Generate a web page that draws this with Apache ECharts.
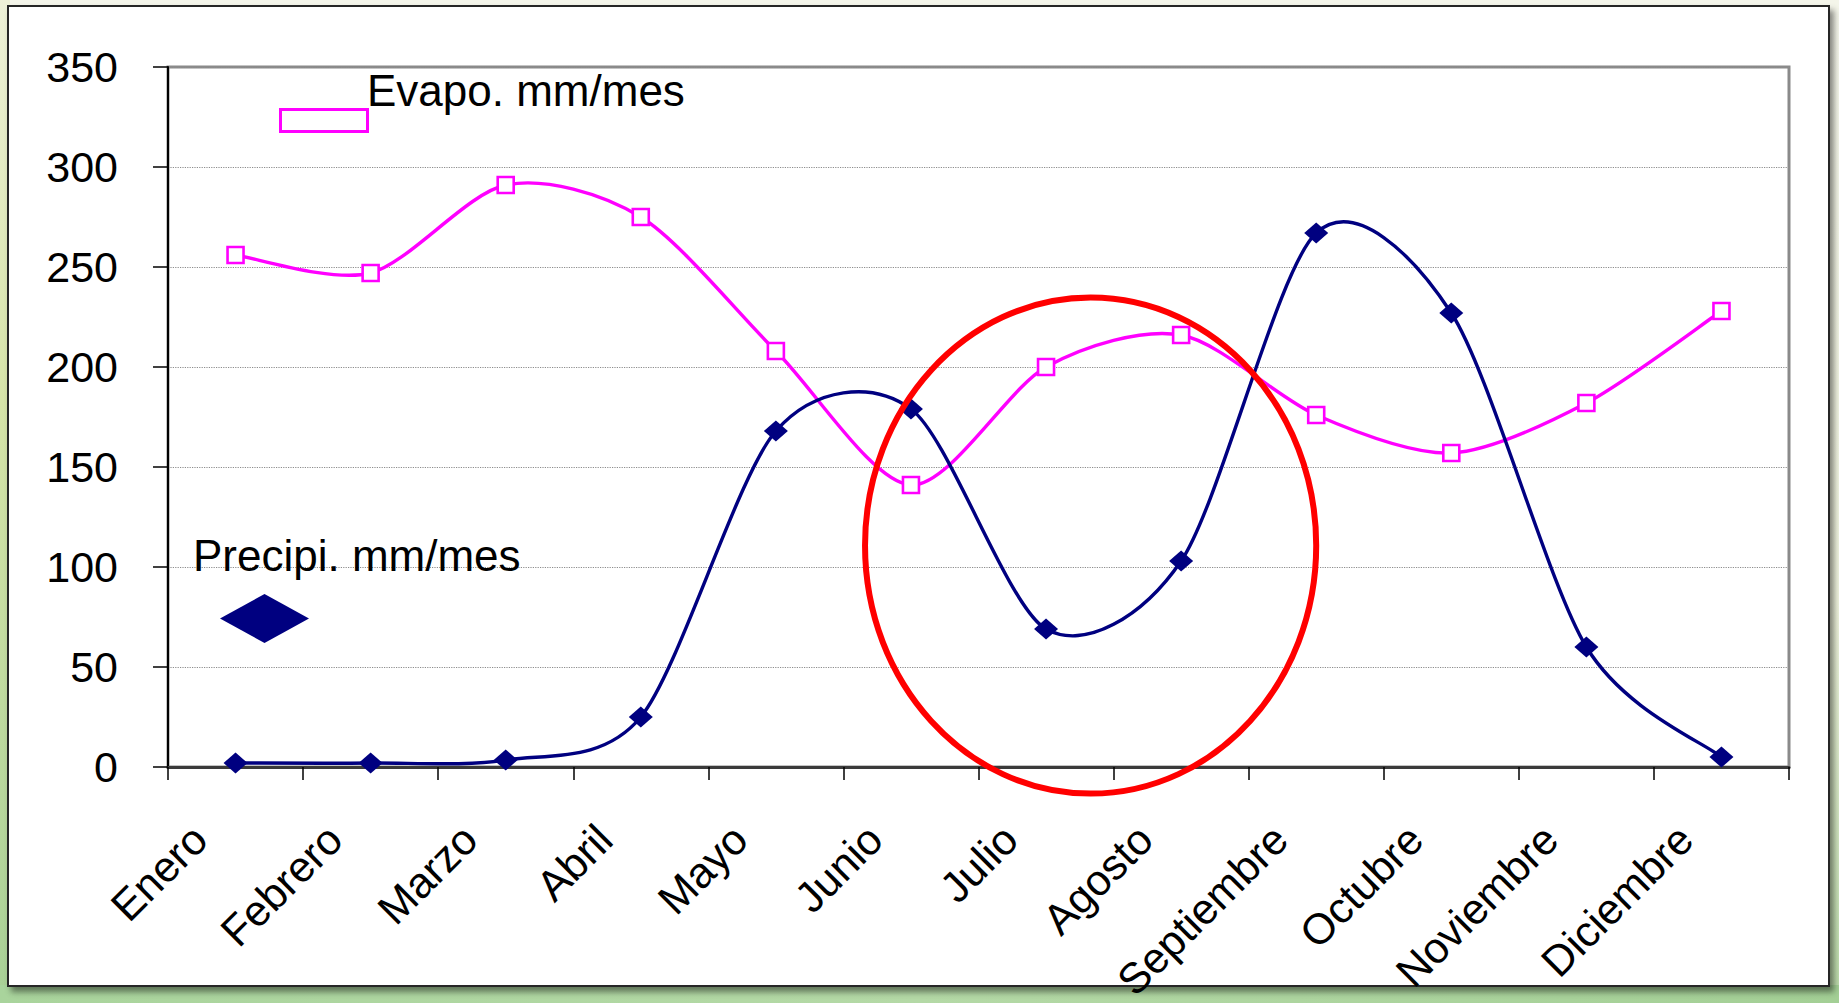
<!DOCTYPE html>
<html>
<head>
<meta charset="utf-8">
<script src="https://cdn.jsdelivr.net/npm/echarts@6/dist/echarts.min.js"></script>
<style>
  html, body { margin: 0; padding: 0; width: 1839px; height: 1003px; overflow: hidden; }
  body { background: linear-gradient(to bottom, #f4f5ea 0%, #eef2dc 60%, #b9d9a8 100%); position: relative; }
  #leftStrip { position: absolute; left: 0; top: 0; width: 10px; height: 1003px;
    background: linear-gradient(to bottom, #eef1d8 0%, #d6e4a8 40%, #a8d096 100%); }
  #bottomStrip { position: absolute; left: 0; top: 985px; width: 1839px; height: 18px;
    background: linear-gradient(to right, #a9d49c 0%, #b4d9a6 50%, #a3cf95 100%); }
  #frame { position: absolute; left: 7px; top: 5px; width: 1819px; height: 978px;
    background: #ffffff; border: 2px solid #262626; box-shadow: 4px 5px 6px rgba(0,0,0,0.45); }
  #chart { position: absolute; left: 0; top: 0; width: 1839px; height: 1003px; }
</style>
</head>
<body>
<div id="leftStrip"></div>
<div id="bottomStrip"></div>
<div id="frame"></div>
<div id="chart"></div>
<script>
const months = ['Enero','Febrero','Marzo','Abril','Mayo','Junio','Julio','Agosto','Septiembre','Octubre','Noviembre','Diciembre'];
const evapo = [256, 247, 291, 275, 208, 141, 200, 216, 176, 157, 182, 228];
const precip = [2, 2, 3.5, 25, 168, 179, 69, 103, 267, 227, 60, 5];
const yTicks = { min: 0, max: 350, interval: 50 };
const evapoName = 'Evapo. mm/mes';
const precipName = 'Precipi. mm/mes';
// highlighted region (data units): centre at category index / value, radii in categories / value units
const circleNote = { cx: 6.33, cy: 110.7, rx: 1.67, ry: 124 };

const FONT = "'Liberation Sans', Arial, sans-serif";
const EVAPO_COLOR = '#ff00ff';
const PRECIP_COLOR = '#000080';
const TENSION = 1 / 7;

const chart = echarts.init(document.getElementById('chart'), null, { renderer: 'svg', width: 1839, height: 1003 });

// Excel-style smoothed curve (cardinal Bezier) drawn segment by segment through the axes' own coordinates
function smoothSegment(values, color, width) {
  return function (params, api) {
    const i = params.dataIndex;
    const n = values.length;
    if (i >= n - 1) return null;
    const p0 = api.coord([i, values[i]]);
    const p1 = api.coord([i + 1, values[i + 1]]);
    const pm = i > 0 ? api.coord([i - 1, values[i - 1]]) : p0;
    const pp = i + 2 < n ? api.coord([i + 2, values[i + 2]]) : p1;
    return {
      type: 'bezierCurve',
      shape: {
        x1: p0[0], y1: p0[1], x2: p1[0], y2: p1[1],
        cpx1: p0[0] + (p1[0] - pm[0]) * TENSION, cpy1: p0[1] + (p1[1] - pm[1]) * TENSION,
        cpx2: p1[0] - (pp[0] - p0[0]) * TENSION, cpy2: p1[1] - (pp[1] - p0[1]) * TENSION
      },
      style: { stroke: color, lineWidth: width, fill: null, lineJoin: 'round', lineCap: 'round' }
    };
  };
}

const option = {
  backgroundColor: 'transparent',
  animation: false,
  textStyle: { fontFamily: FONT, color: '#000' },
  grid: {
    left: 168, right: 50, top: 67, bottom: 236,
    show: true, borderColor: '#8a8a8a', borderWidth: 3, backgroundColor: 'transparent',
    containLabel: false, outerBoundsMode: 'none'
  },
  legend: [
    {
      data: [{ name: evapoName, icon: 'rect' }],
      left: 279, top: 108, padding: 0,
      itemWidth: 87, itemHeight: 22, selectedMode: false,
      itemStyle: { color: '#ffffff', borderColor: EVAPO_COLOR, borderWidth: 3 },
      lineStyle: { opacity: 0 },
      formatter: function () { return ''; },
      textStyle: { fontSize: 1 }
    },
    {
      data: [{ name: precipName, icon: 'diamond' }],
      left: 220, top: 594, padding: 0,
      itemWidth: 89, itemHeight: 49, selectedMode: false,
      itemStyle: { color: PRECIP_COLOR },
      lineStyle: { opacity: 0 },
      formatter: function () { return ''; },
      textStyle: { fontSize: 1 }
    }
  ],
  xAxis: {
    type: 'category',
    data: months,
    boundaryGap: true,
    axisLine: { show: true, lineStyle: { color: '#3a3a3a', width: 3 } },
    axisTick: { show: true, length: 13, alignWithLabel: false, lineStyle: { color: '#000', width: 1.5 } },
    axisLabel: { rotate: 45, interval: 0, fontSize: 43, fontFamily: FONT, color: '#000', margin: 29, padding: [0, 51, 0, 0] },
    splitLine: { show: false }
  },
  yAxis: {
    type: 'value',
    min: yTicks.min, max: yTicks.max, interval: yTicks.interval,
    axisLine: { show: true, lineStyle: { color: '#000', width: 2 } },
    axisTick: { show: true, length: 15, lineStyle: { color: '#000', width: 1.5 } },
    axisLabel: { fontSize: 43, fontFamily: FONT, color: '#000', margin: 50 },
    splitLine: { show: true, lineStyle: { color: '#8c8c8c', type: 'dotted', width: 1.2 } }
  },
  series: [
    {
      name: evapoName, type: 'custom', z: 2,
      data: evapo.map(function (v, i) { return [i, v]; }),
      renderItem: smoothSegment(evapo, EVAPO_COLOR, 3.4),
      silent: true
    },
    {
      name: evapoName, type: 'line', data: evapo, z: 3,
      symbol: 'rect', symbolSize: 16,
      lineStyle: { width: 0, opacity: 0 },
      itemStyle: { color: '#ffffff', borderColor: EVAPO_COLOR, borderWidth: 2.6 }
    },
    {
      name: precipName, type: 'custom', z: 4,
      data: precip.map(function (v, i) { return [i, v]; }),
      renderItem: smoothSegment(precip, PRECIP_COLOR, 3.4),
      silent: true
    },
    {
      name: precipName, type: 'line', data: precip, z: 5,
      symbol: 'diamond', symbolSize: [24, 21],
      lineStyle: { width: 0, opacity: 0 },
      itemStyle: { color: PRECIP_COLOR }
    }
  ]
};
chart.setOption(option);

// Annotation: red ellipse positioned through the chart's own coordinate system
const a0 = chart.convertToPixel({ gridIndex: 0 }, [6, circleNote.cy]);
const a1 = chart.convertToPixel({ gridIndex: 0 }, [7, circleNote.cy + circleNote.ry]);
const catW = a1[0] - a0[0];
const cxPx = a0[0] + (circleNote.cx - 6) * catW;
const ryPx = a0[1] - a1[1];
chart.setOption({
  graphic: [
    {
      type: 'ellipse', z: 10,
      shape: { cx: cxPx, cy: a0[1], rx: circleNote.rx * catW, ry: ryPx },
      style: { fill: 'none', stroke: '#ff0000', lineWidth: 6 }
    },
    {
      type: 'text', z: 10, x: 367, y: 90,
      style: { text: evapoName, fontSize: 44, fontFamily: FONT, fill: '#000', verticalAlign: 'middle', align: 'left' }
    },
    {
      type: 'text', z: 10, x: 193, y: 555,
      style: { text: precipName, fontSize: 44, fontFamily: FONT, fill: '#000', verticalAlign: 'middle', align: 'left' }
    }
  ]
});
</script>
</body>
</html>
